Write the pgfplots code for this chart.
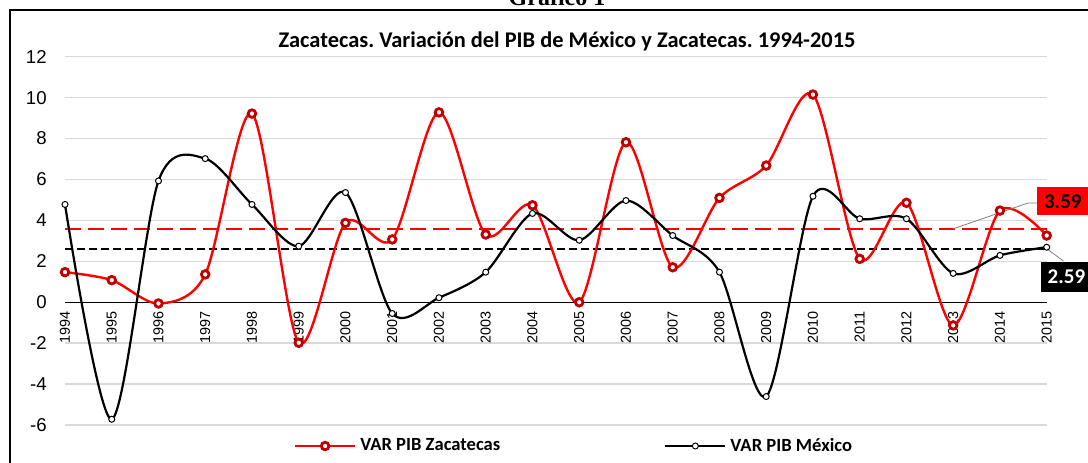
\documentclass[border=0pt]{standalone}
\usepackage{pgfplots}
\pgfplotsset{compat=1.18}
\usepackage{fontspec}
\setmainfont{Liberation Sans}
\newfontfamily\calibri{Carlito}
\newfontfamily\tnr{Liberation Serif}
\definecolor{zred}{HTML}{FF0000}
\definecolor{zdark}{HTML}{C00000}
\definecolor{gridc}{HTML}{D9D9D9}
\frenchspacing
\begin{document}
\begin{tikzpicture}[x=1pt,y=1pt]
\path[use as bounding box] (0,0) rectangle (544,231);
\draw[line width=0.8pt] (5,-2) -- (5,226) -- (548,226);
\node[anchor=base, font=\tnr\bfseries\fontsize{12}{14}\selectfont, inner sep=0] at (278.5,228.5) {Gráfico 1};
\node[anchor=base, font=\calibri\bfseries\fontsize{11.2}{13}\selectfont, inner sep=0] at (283.5,207.5) {Zacatecas. Variación del PIB de México y Zacatecas. 1994-2015};
\begin{axis}[
  at={(32.5pt,18.5pt)}, anchor=south west,
  scale only axis, width=490.85pt, height=184.15pt,
  xmin=1994, xmax=2015, ymin=-6, ymax=12,
  axis x line=middle, axis y line=left,
  hide obscured x ticks=false, hide obscured y ticks=false,
  x axis line style={-, black, line width=0.6pt},
  y axis line style={draw=none},
  xtick={1994,...,2015}, ytick={-6,-4,...,12},
  major tick length=0pt,
  ymajorgrids, grid style={gridc, line width=0.7pt},
  /pgf/number format/1000 sep={},
  /pgf/number format/assume math mode=true,
  xticklabel style={yshift=-4.5pt, rotate=90, anchor=east, inner sep=0pt, font=\fontsize{7.2}{8}\selectfont},
  yticklabel style={anchor=east, inner sep=0pt, xshift=-9pt, font=\fontsize{9.3}{10}\selectfont},
  clip=false,
  legend columns=2,
  legend image code/.code={\draw[mark repeat=2,mark phase=2,#1] plot coordinates {(0pt,0pt)(15pt,0pt)(30pt,0pt)};},
  legend style={draw=none, fill=none, at={(0.5195,-0.057)}, anchor=center,
    font=\calibri\bfseries\fontsize{9.3}{10}\selectfont,
    /tikz/every even column/.append style={column sep=80pt}},
]
\addplot[zred, line width=1pt, dash pattern=on 8pt off 3.5pt, forget plot] coordinates {(1994,3.59) (2015,3.59)};
\addplot[black, line width=1pt, dash pattern=on 4pt off 2pt, forget plot] coordinates {(1994,2.59) (2015,2.59)};
\addplot[zred, line width=1.2pt, smooth, mark=*, mark size=1.9pt, mark options={draw=zdark, fill=white, line width=1.4pt}] table {
x y
1994 1.47
1995 1.08
1996 -0.06
1997 1.36
1998 9.22
1999 -1.98
2000 3.88
2001 3.07
2002 9.28
2003 3.31
2004 4.74
2005 0.00
2006 7.82
2007 1.71
2008 5.10
2009 6.68
2010 10.15
2011 2.12
2012 4.86
2013 -1.13
2014 4.48
2015 3.26
};
\addlegendentry{VAR PIB Zacatecas}
\addplot[black, line width=1.1pt, smooth, mark=*, mark size=1.5pt, mark options={draw=black, fill=white, line width=0.5pt}] table {
x y
1994 4.78
1995 -5.72
1996 5.93
1997 7.02
1998 4.78
1999 2.74
2000 5.36
2001 -0.55
2002 0.22
2003 1.47
2004 4.34
2005 3.03
2006 4.97
2007 3.26
2008 1.47
2009 -4.61
2010 5.18
2011 4.08
2012 4.08
2013 1.41
2014 2.29
2015 2.69
};
\addlegendentry{VAR PIB México}
\draw[gray, line width=0.4pt] (axis cs:2013,3.59) -- (axis cs:2014.6,4.85) -- (axis cs:2014.79,4.85);
\node[fill=zred, text=black, font=\calibri\bfseries\fontsize{10.5}{12}\selectfont, inner sep=0pt, minimum width=25.5pt, minimum height=14pt, anchor=north west] at (axis cs:2014.79,5.63) {3.59};
\draw[gray, line width=0.4pt] (axis cs:2015,2.62) -- (axis cs:2015.36,2.01);
\node[fill=black, text=white, font=\calibri\bfseries\fontsize{10.5}{12}\selectfont, inner sep=0pt, minimum width=25pt, minimum height=15pt, anchor=north west] at (axis cs:2014.88,2.01) {2.59};
\end{axis}
\end{tikzpicture}
\end{document}
